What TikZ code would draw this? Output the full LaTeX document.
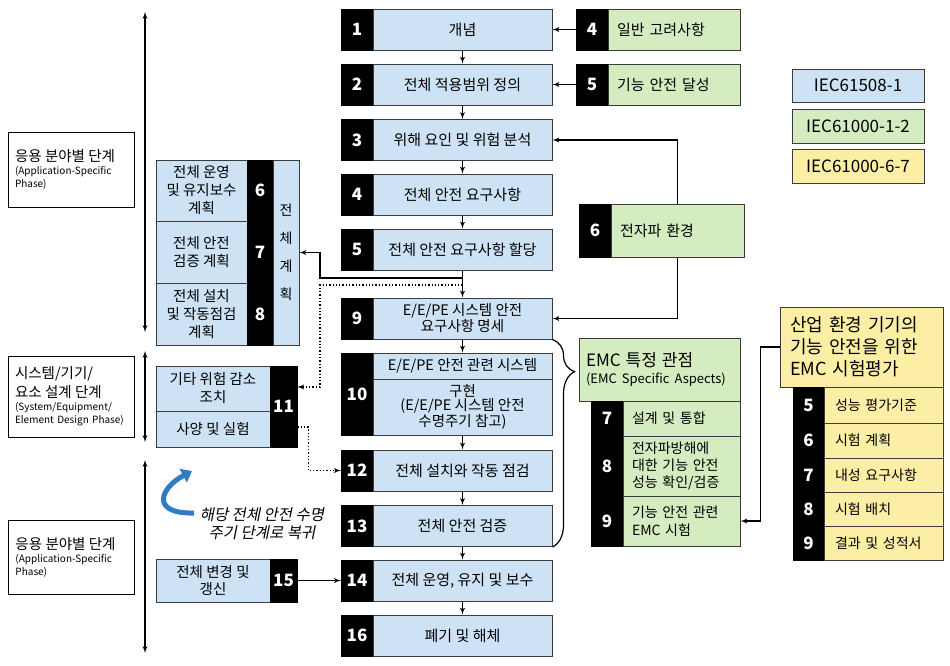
\documentclass[tikz,border=0pt]{standalone}
\usepackage{fontspec}
\setmainfont{Noto Sans CJK KR}
\newfontfamily\krslant[FakeSlant=0.2]{Noto Sans CJK KR}
\usepackage{tikz}
\usepackage{xcolor}
\usetikzlibrary{arrows,arrows.meta,decorations.pathreplacing}
\definecolor{iecblue}{HTML}{CDE3F5}
\definecolor{iecgreen}{HTML}{D5ECC0}
\definecolor{iecyellow}{HTML}{FDEEA6}
\definecolor{boxline}{HTML}{3C3C3C}
\definecolor{backblue}{HTML}{2F7CC5}

\begin{document}
\begin{tikzpicture}[x=1pt, y=-1pt,
		numbox/.style={draw=black, fill=black, text=white, inner sep=0pt, font=\fontsize{17}{17}\selectfont\bfseries},
		bluebox/.style={draw=boxline, fill=iecblue, line width=1pt, inner sep=0pt, align=center, font=\fontsize{15}{17}\selectfont},
		greenbox/.style={draw=boxline, fill=iecgreen, line width=1pt, inner xsep=9pt, inner ysep=0pt, align=left, font=\fontsize{15}{17}\selectfont},
		yellowbox/.style={draw=boxline, fill=iecyellow, line width=1pt, inner xsep=11pt, inner ysep=0pt, align=left, font=\fontsize{14}{17}\selectfont},
		legendbox/.style={draw=boxline, line width=1pt, inner sep=0pt, minimum width={132pt}, font=\fontsize{17}{17}\selectfont},
		phasebox/.style={draw=black, fill=white, line width=1pt, inner xsep=7pt, inner ysep=0pt, text width={112pt}, align=left, font=\fontsize{10}{13}\selectfont},
		arr/.style={-latex', draw, line width=1.3pt},
		dotarr/.style={-latex', draw, dotted, line width=1.3pt},
		phasearr/.style={latex'-latex', draw, line width=1.3pt}]
				\path[fill=white] (0,0) rectangle (950,665);
				\useasboundingbox (0,0) rectangle (950,665);
				\node[numbox, minimum width={32pt}, minimum height={41pt}] (n1) at (357, 29.5) {1};
				\node[bluebox, minimum width={179pt}, minimum height={41pt}] (s1) at (462.5, 29.5) {개념};
				\node[numbox, minimum width={32pt}, minimum height={41pt}] (n2) at (357, 84.5) {2};
				\node[bluebox, minimum width={179pt}, minimum height={41pt}] (s2) at (462.5, 84.5) {전체 적용범위 정의};
				\draw[arr] (s1) to (s2);
				\node[numbox, minimum width={32pt}, minimum height={41pt}] (n3) at (357, 140) {3};
				\node[bluebox, minimum width={179pt}, minimum height={41pt}] (s3) at (462.5, 140) {위해 요인 및 위험 분석};
				\draw[arr] (s2) to (s3);
				\node[numbox, minimum width={32pt}, minimum height={41pt}] (n4) at (357, 194.5) {4};
				\node[bluebox, minimum width={179pt}, minimum height={41pt}] (s4) at (462.5, 194.5) {전체 안전 요구사항};
				\draw[arr] (s3) to (s4);
				\node[numbox, minimum width={32pt}, minimum height={41pt}] (n5) at (357, 249.5) {5};
				\node[bluebox, minimum width={179pt}, minimum height={41pt}] (s5) at (462.5, 249.5) {전체 안전 요구사항 할당};
				\draw[arr] (s4) to (s5);
				\node[numbox, minimum width={32pt}, minimum height={41pt}] (n9) at (357, 318.5) {9};
				\node[bluebox, minimum width={179pt}, minimum height={41pt}, font=\fontsize{14.5}{16}\selectfont] (s9) at (462.5, 318.5) {E/E/PE 시스템 안전\\요구사항 명세};
				\draw[arr] (s5) to (s9);
				\node[numbox, minimum width={32pt}, minimum height={82pt}] (n10) at (357, 394) {10};
				\node[bluebox, minimum width={179pt}, minimum height={26pt}, font=\fontsize{14.5}{16}\selectfont] (s10a) at (462.5, 366) {E/E/PE 안전 관련 시스템};
				\node[bluebox, minimum width={179pt}, minimum height={56pt}, font=\fontsize{14.5}{14}\selectfont] (s10b) at (462.5, 407) {구현\\(E/E/PE 시스템 안전\\수명주기 참고)};
				\draw[arr] (s9) to (s10a);
				\node[numbox, minimum width={32pt}, minimum height={41pt}] (n12) at (357, 470.5) {12};
				\node[bluebox, minimum width={179pt}, minimum height={41pt}] (s12) at (462.5, 470.5) {전체 설치와 작동 점검};
				\draw[arr] (s10b) to (s12);
				\node[numbox, minimum width={32pt}, minimum height={41pt}] (n13) at (357, 526) {13};
				\node[bluebox, minimum width={179pt}, minimum height={41pt}] (s13) at (462.5, 526) {전체 안전 검증};
				\draw[arr] (s12) to (s13);
				\node[numbox, minimum width={32pt}, minimum height={41pt}] (n14) at (357, 580.5) {14};
				\node[bluebox, minimum width={179pt}, minimum height={41pt}] (s14) at (462.5, 580.5) {전체 운영, 유지 및 보수};
				\draw[arr] (s13) to (s14);
				\node[numbox, minimum width={32pt}, minimum height={41pt}] (n16) at (357, 635.5) {16};
				\node[bluebox, minimum width={179pt}, minimum height={41pt}] (s16) at (462.5, 635.5) {폐기 및 해체};
				\draw[arr] (s14) to (s16);
				\node[bluebox, minimum width={91pt}, minimum height={61pt}, font=\fontsize{14.5}{18}\selectfont] (ps6) at (201.5, 190.5) {전체 운영\\및 유지보수\\계획};
				\node[numbox, minimum width={26pt}, minimum height={61pt}] (pn6) at (260, 190.5) {6};
				\node[bluebox, minimum width={91pt}, minimum height={62pt}, font=\fontsize{14.5}{18}\selectfont] (ps7) at (201.5, 252) {전체 안전\\검증 계획};
				\node[numbox, minimum width={26pt}, minimum height={62pt}] (pn7) at (260, 252) {7};
				\node[bluebox, minimum width={91pt}, minimum height={62pt}, font=\fontsize{14.5}{18}\selectfont] (ps8) at (201.5, 314) {전체 설치\\및 작동점검\\계획};
				\node[numbox, minimum width={26pt}, minimum height={62pt}] (pn8) at (260, 314) {8};
				\node[bluebox, minimum width={26pt}, minimum height={185pt}, font=\fontsize{14}{28}\selectfont] (plan) at (286, 252.5) {전\\체\\계\\획};
				\coordinate (j1) at (462.5, 278);
				\draw[arr] (j1) -- ++(-142.5, 0) |- (plan.east);
				\node[bluebox, minimum width={114pt}, minimum height={45pt}, font=\fontsize{14.5}{18}\selectfont] (r11a) at (213, 388.5) {기타 위험 감소\\조치};
				\node[bluebox, minimum width={114pt}, minimum height={36pt}, font=\fontsize{14.5}{18}\selectfont] (r11b) at (213, 429) {사양 및 실험};
				\node[numbox, minimum width={27pt}, minimum height={81pt}] (n11) at (283.5, 406.5) {11};
				\coordinate (j2) at (462.5, 285);
				\draw[dotarr] (j2) -- ++(-142.5, 0) |- ([yshift=19.5pt]n11.east);
				\draw[dotarr] ([yshift=-20.5pt]n11.east) -- ++(11, 0) |- (n12.west);
				\node[bluebox, minimum width={114pt}, minimum height={43pt}, font=\fontsize{14.5}{17}\selectfont] (s15) at (213, 580.5) {전체 변경 및\\갱신};
				\node[numbox, minimum width={27pt}, minimum height={43pt}] (n15) at (283.5, 580.5) {15};
				\draw[arr] (n15) to (n14);
				\node[numbox, minimum width={32pt}, minimum height={41pt}] (gn4) at (592, 29.5) {4};
				\node[greenbox, text width={114pt}, minimum height={41pt}] (gs4) at (674, 29.5) {일반 고려사항};
				\draw[arr] (gn4) to (s1);
				\node[numbox, minimum width={32pt}, minimum height={41pt}] (gn5) at (592, 84.5) {5};
				\node[greenbox, text width={114pt}, minimum height={41pt}] (gs5) at (674, 84.5) {기능 안전 달성};
				\draw[arr] (gn5) to (s2);
				\node[numbox, minimum width={32pt}, minimum height={53pt}] (gn6) at (595, 230.5) {6};
				\node[greenbox, text width={115pt}, minimum height={53pt}] (gs6) at (677.5, 230.5) {전자파 환경};
				\draw[arr] (gs6.north) |- (s3.east);
				\draw[arr] (gs6.south) |- (s9.east);
				\node[greenbox, inner xsep=7pt, text width={147pt}, minimum height={63pt}] (emc) at (659.5, 369.5) {{\fontsize{17}{21}\selectfont EMC 특정 관점\par}\fontsize{13}{17}\selectfont \mbox{(EMC Specific Aspects)}};
				\node[numbox, minimum width={32pt}, minimum height={35pt}] (en7) at (607, 418.5) {7};
				\node[greenbox, text width={99pt}, minimum height={35pt}, font=\fontsize{14}{17}\selectfont] (es7) at (681.5, 418.5) {설계 및 통합};
				\node[numbox, minimum width={32pt}, minimum height={60pt}] (en8) at (607, 466) {8};
				\node[greenbox, text width={99pt}, minimum height={60pt}, font=\fontsize{14}{17}\selectfont] (es8) at (681.5, 466) {전자파방해에\\대한 기능 안전\\성능 확인/검증};
				\node[numbox, minimum width={32pt}, minimum height={50pt}] (en9) at (607, 521) {9};
				\node[greenbox, text width={99pt}, minimum height={50pt}, font=\fontsize{14}{18}\selectfont] (es9) at (681.5, 521) {기능 안전 관련\\EMC 시험};
				\draw[decorate, decoration={brace, amplitude=22pt, aspect=0.155}, line width=1.2pt] (s9.south east) -- (s13.south east);
				\node[yellowbox, inner xsep=10pt, text width={143pt}, minimum height={80pt}, font=\fontsize{18}{22}\selectfont] (ind) at (861.5, 347) {산업 환경 기기의\\기능 안전을 위한\\EMC 시험평가};
				\node[numbox, minimum width={31pt}, minimum height={36pt}] (yn5) at (808.5, 405) {5};
				\node[yellowbox, text width={97pt}, minimum height={36pt}] (ys5) at (883.5, 405) {성능 평가기준};
				\node[numbox, minimum width={31pt}, minimum height={35pt}] (yn6) at (808.5, 440.5) {6};
				\node[yellowbox, text width={97pt}, minimum height={35pt}] (ys6) at (883.5, 440.5) {시험 계획};
				\node[numbox, minimum width={31pt}, minimum height={34pt}] (yn7) at (808.5, 475) {7};
				\node[yellowbox, text width={97pt}, minimum height={34pt}] (ys7) at (883.5, 475) {내성 요구사항};
				\node[numbox, minimum width={31pt}, minimum height={34pt}] (yn8) at (808.5, 509) {8};
				\node[yellowbox, text width={97pt}, minimum height={34pt}] (ys8) at (883.5, 509) {시험 배치};
				\node[numbox, minimum width={31pt}, minimum height={34pt}] (yn9) at (808.5, 543) {9};
				\node[yellowbox, text width={97pt}, minimum height={34pt}] (ys9) at (883.5, 543) {결과 및 성적서};
				\draw[arr] (ind.west) -- ++(-19, 0) |- (es9.east);
				\node[legendbox, fill=iecblue, minimum height={33pt}] (lg1) at (858, 85.5) {IEC61508-1};
				\node[legendbox, fill=iecgreen, minimum height={34pt}] (lg2) at (858, 126) {IEC61000-1-2};
				\node[legendbox, fill=iecyellow, minimum height={34pt}] (lg3) at (858, 166) {IEC61000-6-7};
				\node[phasebox, minimum height={75pt}] (ph1) at (71, 169.5) {{\fontsize{14.5}{19}\selectfont 응용 분야별 단계\par}(Application-Specific\\Phase)};
				\node[phasebox, minimum height={81pt}] (ph2) at (71, 396.5) {{\fontsize{14.5}{19}\selectfont 시스템/기기/\\요소 설계 단계\par}(System/Equipment/\\\mbox{Element Design Phase)}};
				\node[phasebox, minimum height={74pt}] (ph3) at (71.5, 557) {{\fontsize{14.5}{19}\selectfont 응용 분야별 단계\par}(Application-Specific\\Phase)};
				\coordinate (va1) at (145, 12);
				\coordinate (vb1) at (145, 332);
				\draw[phasearr] (va1) to (vb1);
				\coordinate (va2) at (145, 351);
				\coordinate (vb2) at (145, 442);
				\draw[phasearr] (va2) to (vb2);
				\coordinate (va3) at (145, 460);
				\coordinate (vb3) at (145, 653);
				\draw[phasearr] (va3) to (vb3);
				\coordinate (rb1) at (194, 513);
				\coordinate (rb2) at (192, 471);
				\draw[-{Triangle[length=10pt, width=15pt]}, draw=backblue, line width=5pt] (rb1) .. controls (150, 514) and (160, 488) .. (rb2);
				\node[font=\krslant\fontsize{15.5}{18}\selectfont, align=center, inner sep=0pt] (back) at (262, 524) {해당 전체 안전 수명\\주기 단계로 복귀};
			\end{tikzpicture}
\end{document}
